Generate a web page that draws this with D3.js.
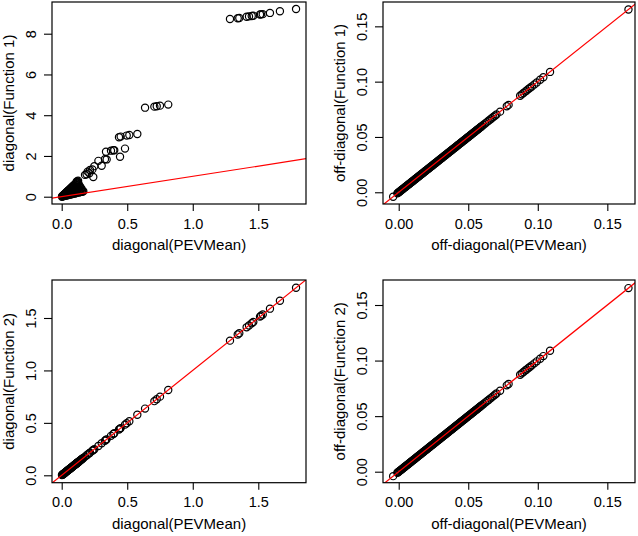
<!DOCTYPE html>
<html>
<head>
<meta charset="utf-8">
<script src="https://cdn.jsdelivr.net/npm/d3@7/dist/d3.min.js"></script>
<style>
html,body{margin:0;padding:0;background:#fff;}
svg{display:block;}
text{font-family:"Liberation Sans",Arial,Helvetica,sans-serif;fill:#000;}
</style>
</head>
<body>
<div id="chart"></div>
<script>
// ---------- data ----------
// diagonal elements: PEVMean (x) and Function 1 (y, top-left panel)
const diagPEV = [
  0.005,0.010,0.015,0.020,0.025,0.030,0.035,0.040,0.045,0.050,0.055,0.060,0.065,0.070,0.075,0.080,0.085,0.090,0.095,0.100,0.105,0.110,0.115,0.120,0.125,
  0.008,0.018,0.028,0.038,0.048,0.058,0.068,0.078,0.088,0.098,0.108,0.118,0.128,0.138,
  0.002,0.012,0.022,0.032,0.042,0.052,0.062,0.072,0.082,0.092,0.102,0.112,0.122,0.132,0.142,0.152,0.160,
  0.130,0.140,0.150,0.120,0.110,0.100,0.135,0.145,0.155,0.165,0.115,0.125,
  0.178,0.190,0.198,0.211,0.216,0.234,0.241,0.249,0.280,0.305,0.330,0.343,0.338,0.376,0.394,0.401,
  0.437,0.445,0.450,0.483,0.496,0.516,0.577,0.636,0.707,0.725,0.750,0.813,
  1.284,1.343,1.355,1.411,1.429,1.450,1.462,1.513,1.521,1.534,1.589,1.665,1.788
];
const diagF1 = [
  0.03,0.06,0.09,0.12,0.15,0.18,0.21,0.24,0.27,0.30,0.33,0.36,0.39,0.42,0.45,0.48,0.51,0.54,0.57,0.60,0.63,0.66,0.70,0.74,0.78,
  0.03,0.06,0.09,0.12,0.15,0.18,0.22,0.25,0.28,0.31,0.35,0.38,0.41,0.44,
  0.00,0.02,0.04,0.05,0.07,0.08,0.10,0.12,0.13,0.15,0.16,0.18,0.20,0.21,0.23,0.24,0.25,
  0.60,0.50,0.40,0.55,0.45,0.20,0.30,0.33,0.30,0.27,0.75,0.70,
  1.07,1.10,1.23,1.15,1.31,1.34,0.97,1.50,1.76,1.52,1.84,1.83,2.21,2.26,2.28,2.28,
  2.92,1.96,2.95,2.36,3.00,3.03,3.08,4.37,4.42,4.44,4.47,4.52,
  8.72,8.76,8.77,8.83,8.85,8.87,8.88,8.94,8.95,8.96,9.02,9.10,9.21
];
// Function 2 reproduces the diagonal of PEVMean: every point sits on the 1:1 line
const diagF2 = diagPEV;

// off-diagonal elements: PEVMean (x); Function 1 and Function 2 lie on the 1:1 line
const offdiagPEV = [
  -0.0040,
  -0.0010,-0.0005,0.0000,0.0005,0.0010,0.0015,0.0020,0.0025,0.0030,0.0035,0.0040,0.0045,0.0050,0.0055,0.0060,0.0065,0.0070,0.0075,0.0080,0.0085,
  0.0090,0.0095,0.0100,0.0105,0.0110,0.0115,0.0120,0.0125,0.0130,0.0135,0.0140,0.0145,0.0150,0.0155,0.0160,0.0165,0.0170,0.0175,0.0180,0.0185,
  0.0190,0.0195,0.0200,0.0205,0.0210,0.0215,0.0220,0.0225,0.0230,0.0235,0.0240,0.0245,0.0250,0.0255,0.0260,0.0265,0.0270,0.0275,0.0280,0.0285,
  0.0290,0.0295,0.0300,0.0305,0.0310,0.0315,0.0320,0.0325,0.0330,0.0335,0.0340,0.0345,0.0350,0.0355,0.0360,0.0365,0.0370,0.0375,0.0380,0.0385,
  0.0390,0.0395,0.0400,0.0405,0.0410,0.0415,0.0420,0.0425,0.0430,0.0435,0.0440,0.0445,0.0450,0.0455,0.0460,0.0465,0.0470,0.0475,0.0480,0.0485,
  0.0490,0.0495,0.0500,0.0505,0.0510,0.0515,0.0520,0.0525,0.0530,0.0535,0.0540,0.0545,0.0550,0.0555,0.0560,0.0565,0.0570,0.0575,0.0580,0.0585,
  0.0590,0.0595,0.0600,
  0.0610,0.0622,0.0634,0.0646,0.0658,0.0669,0.0680,0.0692,0.0703,0.0729,0.0777,0.0790,
  0.0873,0.0885,0.0897,0.0910,0.0920,0.0933,0.0945,0.0957,0.0975,0.0993,0.1017,0.1040,0.1088,0.1652
];
const offdiagF1 = offdiagPEV;
const offdiagF2 = offdiagPEV;

// axis limits and tick values
const diagXLim = [-0.074, 1.864];
const diagF1YLim = [-0.358, 9.556];
const diagF2YLim = [-0.0706, 1.8623];
const offXLim = [-0.0113, 0.1699];
const offF1YLim = [-0.0106, 0.1720];
const offF2YLim = [-0.0099, 0.1725];
const diagXTicks = [0, 0.5, 1.0, 1.5];
const diagF1YTicks = [0, 2, 4, 6, 8];
const diagF2YTicks = [0, 0.5, 1.0, 1.5];
const offTicks = [0, 0.05, 0.10, 0.15];

// ---------- drawing ----------
const W = 638, H = 536;
const svg = d3.select("#chart").append("svg").attr("width", W).attr("height", H);

const panels = [
  {box:[52,306,2,204], x:diagPEV, y:diagF1, xlim:diagXLim, ylim:diagF1YLim, xt:diagXTicks, yt:diagF1YTicks,
   xf:d3.format(".1f"), yf:d3.format("d"), xlab:"diagonal(PEVMean)", ylab:"diagonal(Function 1)"},
  {box:[383,635,2,204], x:offdiagPEV, y:offdiagF1, xlim:offXLim, ylim:offF1YLim, xt:offTicks, yt:offTicks,
   xf:d3.format(".2f"), yf:d3.format(".2f"), xlab:"off-diagonal(PEVMean)", ylab:"off-diagonal(Function 1)"},
  {box:[52,306,280,482.7], x:diagPEV, y:diagF2, xlim:diagXLim, ylim:diagF2YLim, xt:diagXTicks, yt:diagF2YTicks,
   xf:d3.format(".1f"), yf:d3.format(".1f"), xlab:"diagonal(PEVMean)", ylab:"diagonal(Function 2)"},
  {box:[383,635,280,482.7], x:offdiagPEV, y:offdiagF2, xlim:offXLim, ylim:offF2YLim, xt:offTicks, yt:offTicks,
   xf:d3.format(".2f"), yf:d3.format(".2f"), xlab:"off-diagonal(PEVMean)", ylab:"off-diagonal(Function 2)"}
];

const FS = 14.5;

panels.forEach((p, i) => {
  const [x0, x1, y0, y1] = p.box;
  const xs = d3.scaleLinear().domain(p.xlim).range([x0, x1]);
  const ys = d3.scaleLinear().domain(p.ylim).range([y1, y0]);
  const g = svg.append("g");

  const clipId = "clip" + i;
  svg.append("clipPath").attr("id", clipId)
    .append("rect").attr("x", x0).attr("y", y0).attr("width", x1 - x0).attr("height", y1 - y0);

  // points
  g.append("g").selectAll("circle").data(p.x.map((v, k) => [v, p.y[k]])).join("circle")
    .attr("cx", d => xs(d[0])).attr("cy", d => ys(d[1])).attr("r", 3.6)
    .attr("fill", "none").attr("stroke", "#000").attr("stroke-width", 1.2);

  // 1:1 reference line (abline(0,1))
  const lo = Math.min(p.xlim[0], p.ylim[0]) - 1, hi = Math.max(p.xlim[1], p.ylim[1]) + 1;
  g.append("line").attr("clip-path", `url(#${clipId})`)
    .attr("x1", xs(lo)).attr("y1", ys(lo)).attr("x2", xs(hi)).attr("y2", ys(hi))
    .attr("stroke", "#ff0000").attr("stroke-width", 1.2);

  // box
  g.append("rect").attr("x", x0).attr("y", y0).attr("width", x1 - x0).attr("height", y1 - y0)
    .attr("fill", "none").attr("stroke", "#000").attr("stroke-width", 1.2);

  // x axis
  const xa = g.append("g").attr("transform", `translate(0,${y1})`)
    .call(d3.axisBottom(xs).tickValues(p.xt).tickFormat(p.xf).tickSize(7).tickSizeOuter(0));
  xa.select(".domain").remove();
  xa.selectAll(".tick line").attr("stroke-width", 1.1);
  xa.selectAll(".tick text").attr("y", 24.5).attr("dy", 0).attr("font-size", FS)
    .attr("font-family", null);

  // y axis
  const ya = g.append("g").attr("transform", `translate(${x0},0)`)
    .call(d3.axisLeft(ys).tickValues(p.yt).tickFormat(p.yf).tickSize(8).tickSizeOuter(0));
  ya.select(".domain").remove();
  ya.selectAll(".tick line").attr("stroke-width", 1.1);
  ya.selectAll(".tick text").attr("transform", "rotate(-90)")
    .attr("x", 0).attr("y", -16).attr("dy", 0).attr("text-anchor", "middle")
    .attr("font-size", FS).attr("font-family", null);

  // axis titles
  g.append("text").attr("x", (x0 + x1) / 2).attr("y", y1 + 46)
    .attr("text-anchor", "middle").attr("font-size", FS + 0.5).text(p.xlab);
  g.append("text").attr("transform", `translate(${x0 - 38},${(y0 + y1) / 2}) rotate(-90)`)
    .attr("text-anchor", "middle").attr("font-size", FS + 0.5).text(p.ylab);
});
</script>
</body>
</html>
